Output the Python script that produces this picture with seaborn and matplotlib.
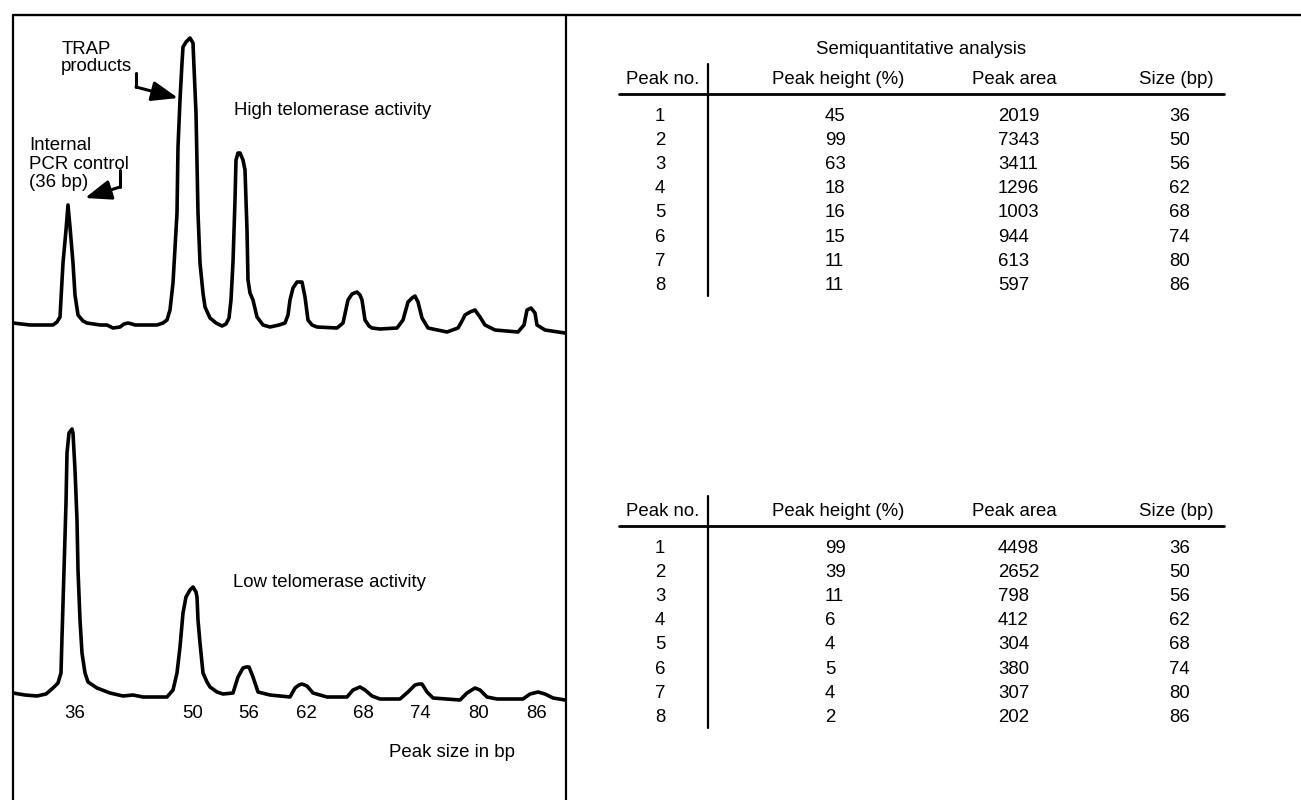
import matplotlib
matplotlib.use("Agg")
import matplotlib.pyplot as plt
import pandas as pd
import seaborn as sns

# semiquantitative analysis tables
peak_no = [1, 2, 3, 4, 5, 6, 7, 8]
size_bp = [36, 50, 56, 62, 68, 74, 80, 86]
high_height = [45, 99, 63, 18, 16, 15, 11, 11]
high_area = [2019, 7343, 3411, 1296, 1003, 944, 613, 597]
low_height = [99, 39, 11, 6, 4, 5, 4, 2]
low_area = [4498, 2652, 798, 412, 304, 380, 307, 202]
columns = ["Peak no.", "Peak height (%)", "Peak area", "Size (bp)"]

# electropherogram traces (scan position, signal in a.u.)
high_scan = [0, 17, 40, 44, 47, 50, 53, 55, 57, 60, 62, 65, 70, 74, 87, 94, 100, 107, 111, 115,
             119, 122, 144, 150, 154, 157, 160, 164, 165, 167, 169, 170, 173, 177, 180, 181, 183,
             184, 185, 187, 190, 192, 197, 203, 209, 213, 216, 218, 220, 222, 223, 225, 227, 230,
             232, 234, 235, 237, 240, 244, 250, 257, 266, 272, 275, 277, 280, 284, 289, 292, 295,
             299, 304, 324, 330, 335, 339, 344, 347, 349, 352, 356, 359, 367, 384, 390, 395, 399,
             402, 405, 409, 415, 434, 445, 449, 452, 457, 462, 467, 472, 482, 505, 511, 514, 518,
             522, 524, 532, 552]
high_signal = [2, 0, 0, 3, 8, 62, 95, 120, 98, 62, 30, 10, 4, 2, 0, 0, -3, -2, 1, 2,
               1, 0, 0, 2, 5, 15, 42, 112, 178, 225, 262, 278, 283, 287, 282, 258, 212,
               162, 112, 62, 32, 18, 7, 2, -1, 1, 7, 25, 63, 125, 165, 172, 172, 165,
               155, 95, 45, 32, 25, 8, 0, -2, 0, 2, 10, 25, 37, 43, 43, 28, 5,
               0, -2, -3, 2, 25, 31, 33, 30, 25, 5, -1, -3, -4, -3, 5, 23, 27,
               29, 23, 7, -3, -7, -3, 4, 10, 13, 15, 8, 0, -5, -7, 0, 15, 17,
               12, 0, -5, -8]
low_scan = [0, 12, 24, 33, 40, 45, 48, 49, 51, 53, 54, 56, 59, 60, 62, 64, 65, 67, 69, 72,
            75, 84, 97, 110, 120, 130, 154, 160, 164, 167, 170, 173, 177, 180, 183, 184, 185,
            187, 189, 190, 194, 197, 204, 210, 220, 225, 230, 233, 236, 240, 245, 257, 277,
            282, 286, 289, 294, 300, 314, 334, 340, 347, 352, 359, 367, 387, 395, 402, 406,
            409, 414, 420, 447, 454, 462, 467, 474, 484, 510, 517, 525, 532, 540, 552]
low_signal = [0, -2, -3, -1, 5, 10, 20, 56, 123, 190, 240, 260, 264, 260, 223, 173, 123, 73, 40, 20,
              11, 5, 0, -3, -2, -4, -4, 3, 20, 46, 80, 96, 103, 106, 101, 96, 73,
              50, 30, 20, 11, 6, 1, -1, 0, 16, 25, 26, 26, 16, 1, -2, -4,
              5, 8, 9, 7, 0, -4, -4, 3, 6, 3, -3, -6, -6, 1, 8, 9,
              9, 1, -5, -7, 0, 5, 3, -4, -6, -6, -1, 1, -1, -5, -7]
# where the bp size labels sit along the scan
label_scan = [62, 180, 236, 293, 350, 407, 466, 524]

sns.set_theme(style="white")
plt.rcParams["font.family"] = ["Liberation Sans", "DejaVu Sans"]

W, H = 1301, 800
FS = 13.4
CAP = 0.716 * FS * 100 / 72 / 2   # half cap height in px


def box(x0, y0, x1, y1):
    return [x0 / W, 1 - y1 / H, (x1 - x0) / W, (y1 - y0) / H]


fig = plt.figure(figsize=(13.01, 8.0), dpi=100)
ax_hi = fig.add_axes(box(13, 30, 566, 345))
ax_lo = fig.add_axes(box(13, 420, 566, 702))

for a, xs, ys, lim in [(ax_hi, high_scan, high_signal, (-20, 295)),
                       (ax_lo, low_scan, low_signal, (-9, 273))]:
    df = pd.DataFrame({"scan": xs, "signal": ys})
    sns.lineplot(data=df, x="scan", y="signal", sort=False, estimator=None,
                 color="black", lw=2.6, ax=a, solid_joinstyle="round", solid_capstyle="round")
    a.set_xlim(0, 553)
    a.set_ylim(*lim)
    a.set_xlabel("")
    a.set_ylabel("")
    a.set_yticks([])
    a.patch.set_alpha(0)
    for s in a.spines.values():
        s.set_visible(False)

ax_hi.set_xticks([])
ax_lo.set_xticks(label_scan, labels=[str(s) for s in size_bp])
ax_lo.tick_params(axis="x", length=0, pad=2.4, labelsize=FS, colors="black")

# overlay in pixel coordinates for frame, annotations and tables
ax = fig.add_axes([0, 0, 1, 1])
ax.set_xlim(0, W)
ax.set_ylim(H, 0)
ax.set_axis_off()
ax.patch.set_alpha(0)


def put(x, y, s, ha="left"):
    ax.text(x, y + CAP, s, ha=ha, va="baseline", fontsize=FS, color="black")


# frame
ax.plot([13, W], [15, 15], color="black", lw=1.7)
ax.plot([13, 13], [15, H], color="black", lw=1.6)
ax.plot([566, 566], [15, H], color="black", lw=1.6)

# trace labels
put(62, 47, "TRAP")
put(61, 64, "products")
put(29, 143, "Internal")
put(29, 162, "PCR control")
put(29, 180, "(36 bp)")
put(234, 108, "High telomerase activity")
put(233, 580, "Low telomerase activity")
put(389, 750, "Peak size in bp")

arrow = dict(arrowstyle="-|>,head_length=1.0,head_width=0.38", color="black",
             lw=2.2, shrinkA=0, shrinkB=0, mutation_scale=16)
ax.plot([136, 136], [73, 87], color="black", lw=2.2)
ax.annotate("", xy=(178, 98), xytext=(136, 87), arrowprops=arrow)
ax.plot([120, 120], [170, 187], color="black", lw=2.2)
ax.annotate("", xy=(85, 198), xytext=(120, 187), arrowprops=arrow)

# tables
col_x = [660, 825, 998, 1169]
col_ha = ["center", "left", "left", "left"]
head_x = [663, 838, 1014, 1176]


def table(y_head, heights, areas):
    for hx, name in zip(head_x, columns):
        put(hx, y_head, name, ha="center")
    ax.plot([619, 1224], [y_head + 17, y_head + 17], color="black", lw=2.0)
    ax.plot([707.5, 707.5], [y_head - 13, y_head + 219], color="black", lw=1.6)
    for i in range(len(peak_no)):
        y = y_head + 37 + 24.2 * i
        row = [peak_no[i], heights[i], areas[i], size_bp[i]]
        for x, ha, v in zip(col_x, col_ha, row):
            put(x, y, str(v), ha=ha)


put(921, 47, "Semiquantitative analysis", ha="center")
table(77, high_height, high_area)
table(509, low_height, low_area)

fig.savefig("out.png", dpi=100)
